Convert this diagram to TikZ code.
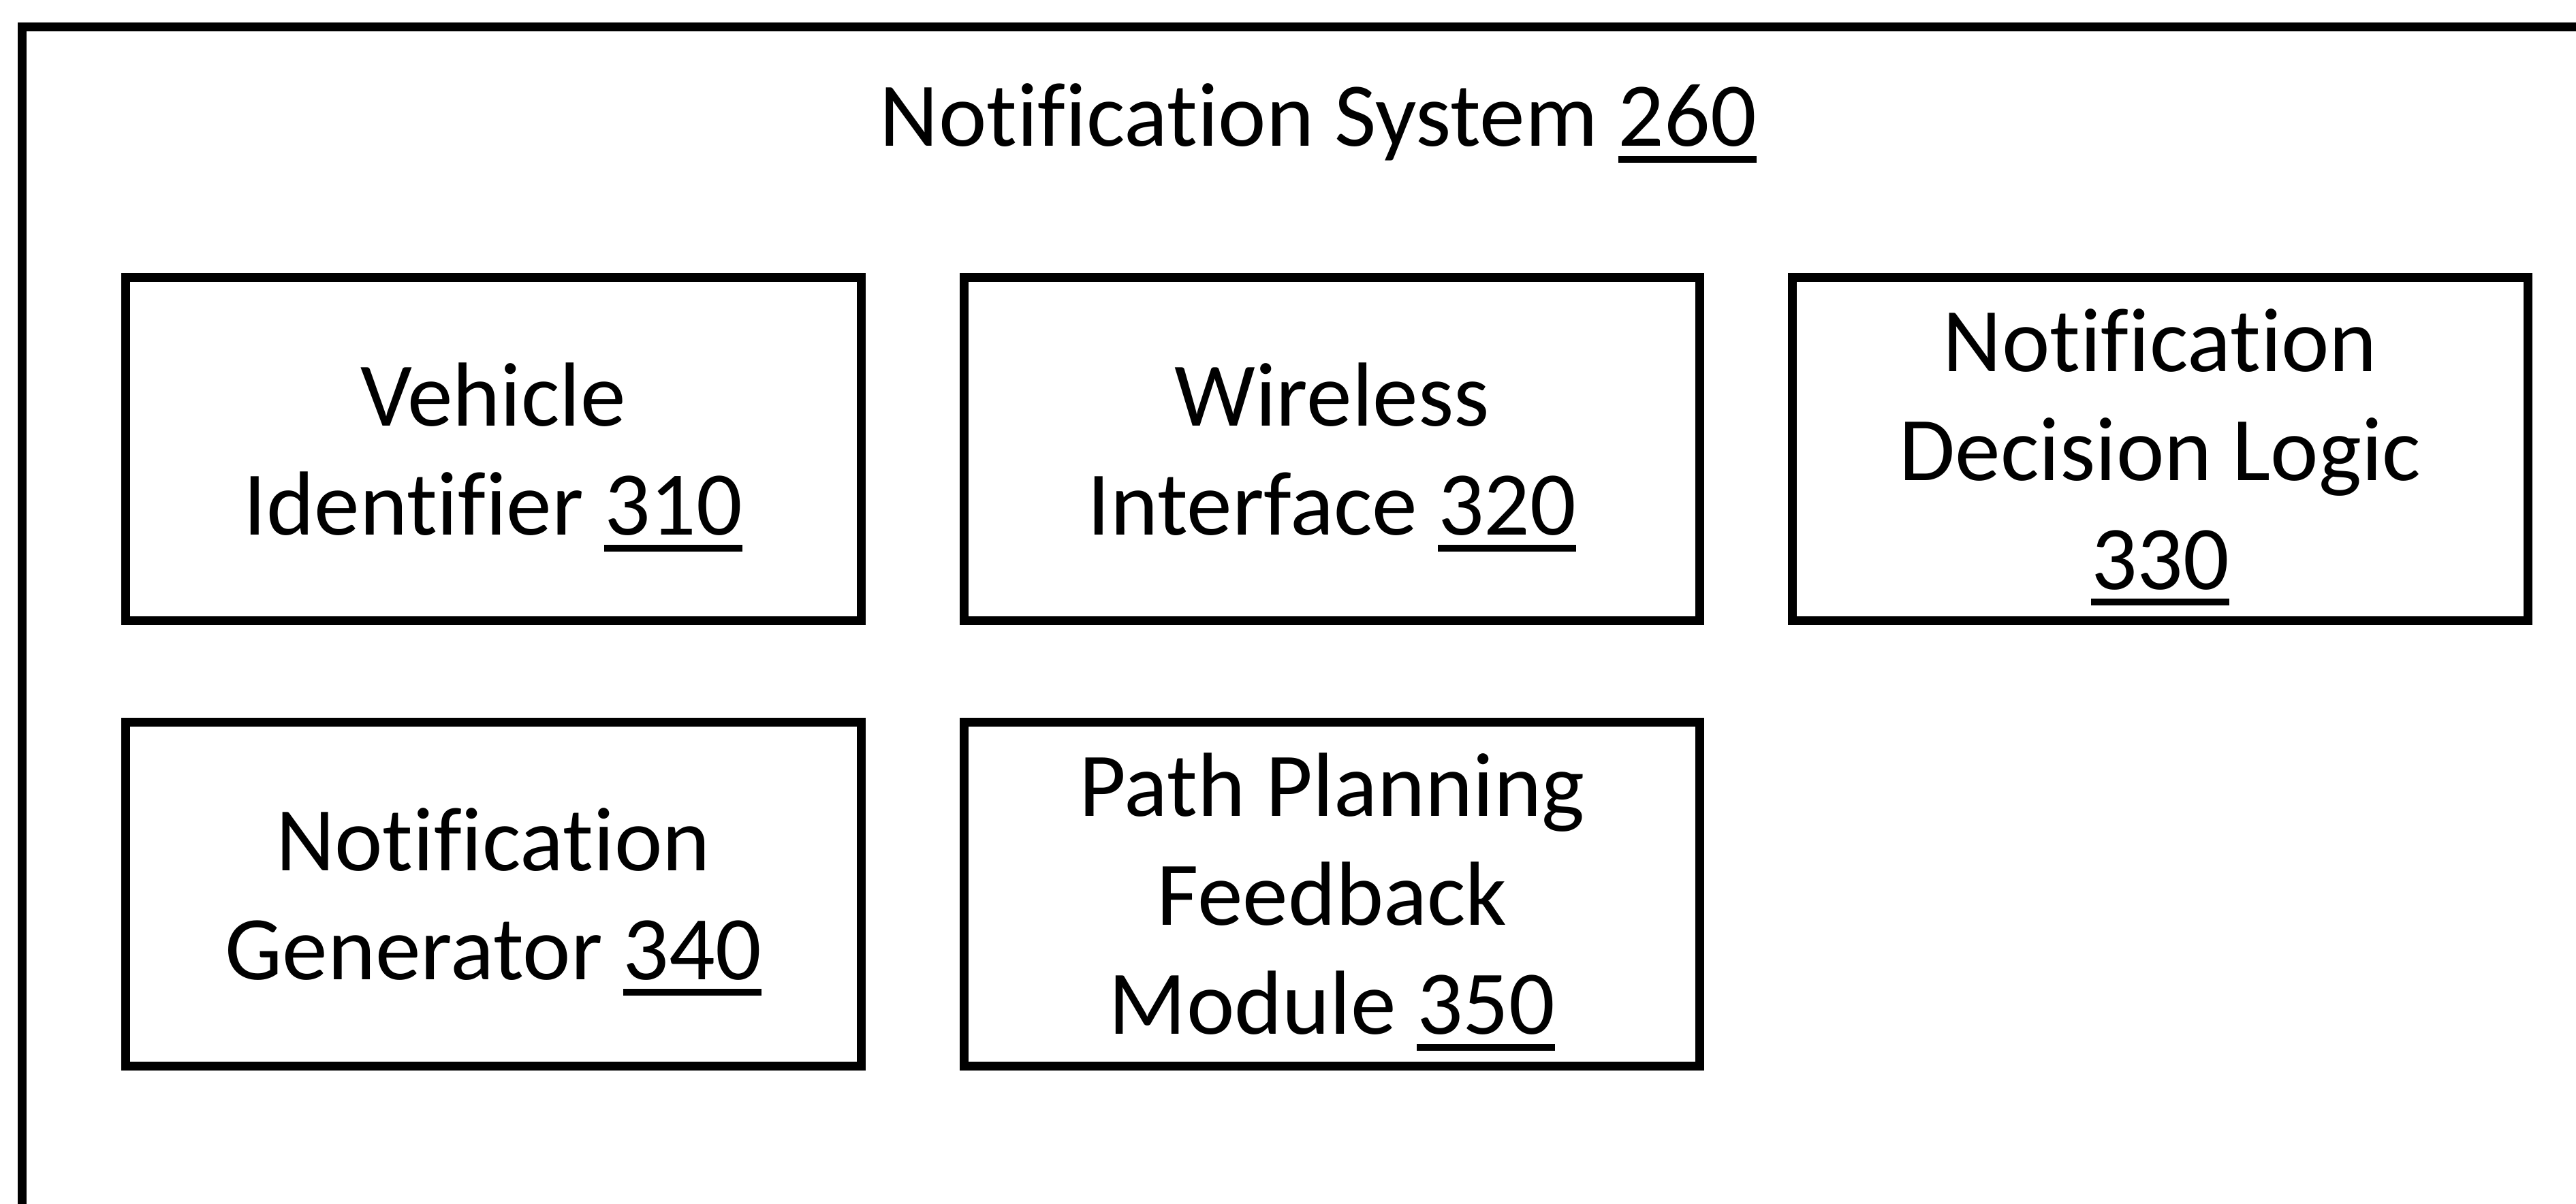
\documentclass[tikz,border=0pt]{standalone}
\usepackage{fontspec}
\setmainfont{Carlito}[Ligatures=CommonOff]
\usetikzlibrary{positioning}

% underlined reference number
\newcommand{\refnum}[1]{\setbox0\hbox{#1}\rlap{\smash{\rule[-0.24cm]{\wd0}{0.1cm}}}\box0}

\begin{document}
\begin{tikzpicture}[node distance=1.36cm, line width=0.13cm,
  every node/.style={font=\fontsize{38}{45.5}\selectfont},
  module/.style={rectangle, draw, align=center, minimum width=10.8cm, minimum height=5.04cm}]
  \clip (0,0) rectangle (37.82,-17.68);
  % Frame
  \draw (0.32,-0.40) rectangle (38.5,-18.6);
  \node (title) [anchor=base] at (19.355,-2.15) {Notification System \refnum{260}};

  % Nodes
  \node (vid) [module] at (7.24,-6.60) {Vehicle\\Identifier \refnum{310}};
  \node (wif) [module, right=1.385cm of vid] {Wireless\\Interface \refnum{320}};
  \node (ndl) [module, right=1.23cm of wif] {Notification\\Decision Logic\\\refnum{330}};
  \node (ngen) [module, below=of vid] {Notification\\Generator \refnum{340}};
  \node (ppf) [module, below=of wif] {Path Planning\\Feedback\\Module \refnum{350}};
\end{tikzpicture}
\end{document}
